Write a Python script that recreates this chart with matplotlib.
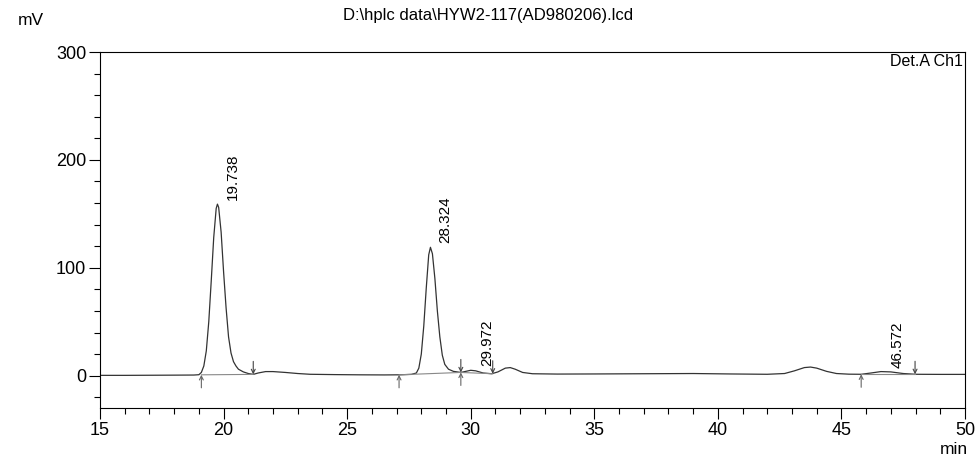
import matplotlib
matplotlib.use("Agg")
import matplotlib.pyplot as plt
from matplotlib.ticker import MultipleLocator

plt.rcParams['font.family'] = ['Liberation Sans', 'DejaVu Sans']

# chromatogram trace (min, mV)
time_min = [15.0, 16.0, 17.0, 18.0, 18.8, 19.0, 19.1, 19.2, 19.3, 19.4, 19.5, 19.6, 19.7,
            19.75, 19.8, 19.9, 20.0, 20.1, 20.2, 20.3, 20.4, 20.5, 20.6, 20.8, 21.0, 21.2,
            21.4, 21.7, 22.0, 22.5, 23.0, 23.5, 24.5, 25.5, 26.5, 27.1, 27.6, 27.8, 27.9,
            28.0, 28.1, 28.2, 28.3, 28.37, 28.45, 28.55, 28.65, 28.75, 28.85, 28.95, 29.1,
            29.3, 29.6, 29.8, 30.0, 30.2, 30.5, 30.85, 31.1, 31.4, 31.6, 31.8, 32.1, 32.5,
            33.5, 35.0, 37.0, 39.0, 40.5, 42.0, 42.7, 43.1, 43.5, 43.75, 44.0, 44.4, 44.8,
            45.3, 45.8, 46.2, 46.6, 47.0, 47.5, 48.0, 49.0, 50.0]
signal_mv = [0.3, 0.3, 0.4, 0.5, 0.6, 0.9, 3, 9, 23, 50, 88, 128, 155,
             159, 156, 133, 96, 63, 36, 21, 13, 9, 6, 3.5, 2.0, 1.2,
             2.5, 3.8, 3.8, 3.0, 2.0, 1.3, 1.0, 0.8, 0.7, 0.8, 1.2, 2.5, 7,
             20, 46, 81, 112, 119, 113, 90, 60, 36, 19, 10.5, 6,
             4, 3, 4, 5, 4.5, 2.5, 1.8, 3.5, 7, 7.5, 6, 3, 1.8,
             1.5, 1.6, 1.8, 2.0, 1.6, 1.3, 2, 4.5, 7.5, 8, 7, 4, 2,
             1.4, 1.3, 2.5, 3.8, 3.5, 2, 1.3, 1.2, 1.2]

# labelled peaks
peak_labels = ['19.738', '28.324', '29.972', '46.572']
peak_time = [19.75, 28.37, 30.05, 46.65]
peak_mv = [159, 119, 5, 3.8]

# integration start / end marks
start_time = [19.1, 27.1, 29.6, 45.8]
start_mv = [0.8, 0.8, 3, 1.3]
end_time = [21.2, 29.6, 30.89, 47.98]
end_mv = [1.2, 3, 1.8, 1.3]

fig = plt.figure(figsize=(9.76, 4.59), dpi=100)
ax = fig.add_axes([0.1025, 0.111, 0.8862, 0.7757])

ax.plot(time_min, signal_mv, color='#333333', lw=0.9)

# baselines between start and end marks
for t0, y0, t1, y1 in zip(start_time, start_mv, end_time, end_mv):
    ax.plot([t0, t1], [y0, y1], color='#888888', lw=0.8)

for t, y in zip(start_time, start_mv):
    ax.annotate('', xy=(t, y), xytext=(0, -13), textcoords='offset pixels',
                arrowprops=dict(arrowstyle='->', color='#666666', lw=0.8,
                                shrinkA=0, shrinkB=0, mutation_scale=7))
for t, y in zip(end_time, end_mv):
    ax.annotate('', xy=(t, y), xytext=(0, 13), textcoords='offset pixels',
                arrowprops=dict(arrowstyle='->', color='#444444', lw=0.8,
                                shrinkA=0, shrinkB=0, mutation_scale=7))

for lab, t, y in zip(peak_labels, peak_time, peak_mv):
    ax.annotate(lab, xy=(t, y), xytext=(15, 4), textcoords='offset pixels',
                rotation=90, ha='center', va='bottom', fontsize=11)

ax.set_xlim(15, 50)
ax.set_ylim(-30, 300)
ax.xaxis.set_major_locator(MultipleLocator(5))
ax.xaxis.set_minor_locator(MultipleLocator(1))
ax.yaxis.set_major_locator(MultipleLocator(100))
ax.yaxis.set_minor_locator(MultipleLocator(20))
ax.tick_params(which='both', direction='out', labelsize=13, width=0.8, pad=2)
ax.tick_params(which='major', length=8)
ax.tick_params(which='minor', length=4)
for s in ax.spines.values():
    s.set_linewidth(0.8)

ax.text(0.998, 0.995, 'Det.A Ch1', transform=ax.transAxes, ha='right', va='top', fontsize=11.5)
fig.text(0.5, 0.967, 'D:\\hplc data\\HYW2-117(AD980206).lcd', ha='center', va='center', fontsize=12)
fig.text(0.018, 0.955, 'mV', ha='left', va='center', fontsize=12.5)
fig.text(0.992, 0.02, 'min', ha='right', va='center', fontsize=12.5)

fig.savefig('out.png', dpi=100)
